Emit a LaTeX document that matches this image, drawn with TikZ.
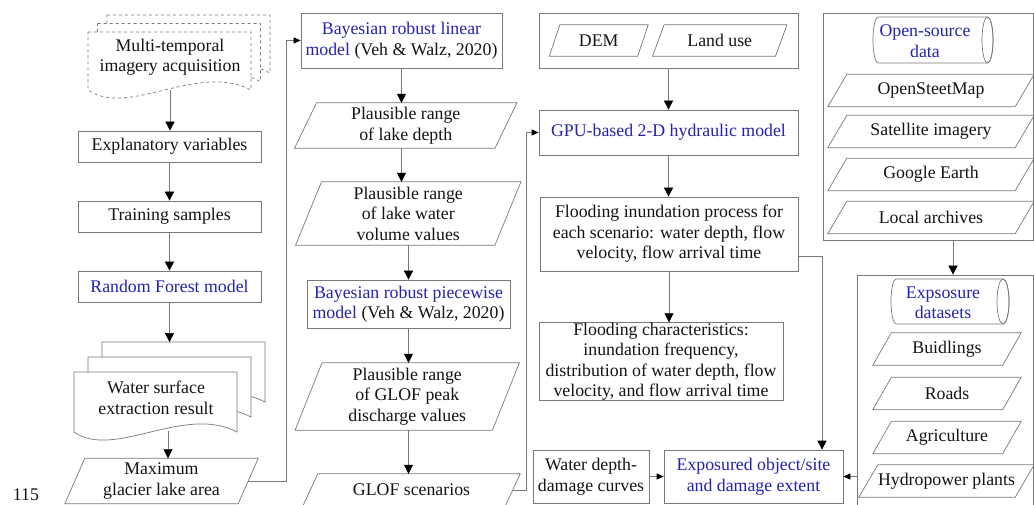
\documentclass[tikz,border=0pt]{standalone}
\usepackage{fontspec}
\setmainfont{Liberation Serif}
\usetikzlibrary{arrows.meta,calc}
\definecolor{blueT}{RGB}{35,35,175}
\definecolor{lineC}{RGB}{120,120,120}
\definecolor{txtC}{RGB}{20,20,20}
\tikzset{
 txt/.style={inner sep=0pt, align=center, font=\fontsize{17.8}{20.5}\selectfont, text=txtC},
 bx/.style={draw=lineC, line width=0.7pt},
 boxn/.style={txt, bx, fill=white},
 cont/.style={bx, inner sep=0pt},
 arr/.style={draw=lineC, line width=0.7pt, -{Triangle[length=9pt,width=9pt,color=black]}},
 arrs/.style={draw=lineC, line width=0.7pt, -{Triangle[length=7pt,width=6pt,color=black]}},
 docd/.style={bx, dashed, fill=white},
 docs/.style={bx, fill=white},
}
\newcommand\mypgram[8][]{%
 \node[txt, minimum width=#5pt, minimum height=#6pt, #1] (#2) at (#3,#4) {#8};
 \draw[bx] ([xshift=#7pt/2]#2.north west) -- ([xshift=#7pt/2]#2.north east) -- ([xshift=-#7pt/2]#2.south east) -- ([xshift=-#7pt/2]#2.south west) -- cycle;
}
\newcommand\mydoc[4]{% style, x, y, h
 \draw[#1] (#2,#3) -- ++(163,0) -- ++(0,#4) .. controls ++(-53,-28) and ++(40,28) .. ++(-163,0) -- cycle;
}
\begin{document}
\begin{tikzpicture}[x=1pt,y=-1pt]
\useasboundingbox (0,0) rectangle (1034,505);
\fill[white] (0,0) rectangle (1034,505);
\clip (0,0) rectangle (1034,505);

% ---------- left column ----------
\mydoc{docd}{107}{15}{58}
\mydoc{docd}{97.5}{23.5}{58}
\mydoc{docd}{88}{32}{58}
\node[txt] (md) at (170,57) {Multi-temporal\\imagery acquisition};
\coordinate (mdb) at (170,90);

\node[boxn, minimum width=183pt, minimum height=31pt] (ev) at (169.5,146.5) {Explanatory variables};
\node[boxn, minimum width=183pt, minimum height=31pt] (ts) at (169.5,216.5) {Training samples};
\node[boxn, minimum width=183pt, minimum height=31pt, text=blueT] (rf) at (169.5,286.5) {Random Forest model};

\mydoc{docs}{102}{342}{60}
\mydoc{docs}{88}{357}{60}
\mydoc{docs}{74}{372}{60}
\node[txt] (ws) at (156,398) {Water surface\\extraction result};
\coordinate (wstop) at (169.5,342);
\coordinate (wsb) at (168,431);

\mypgram{mg}{161.5}{481}{173}{45}{20}{Maximum\\glacier lake area}
\node[txt] (n115) at (26,495) {115};

% ---------- second column ----------
\node[boxn, minimum width=201pt, minimum height=55pt] (brlm) at (401.5,40.5)
 {{\color{blueT}Bayesian robust linear}\\{\color{blueT}model} (Veh \& Walz, 2020)};
\mypgram{pd}{405.75}{125.5}{200}{45}{22}{Plausible range\\of lake depth}
\mypgram{pv}{408.25}{213.5}{199}{63}{26}{Plausible range\\of lake water\\volume values}
\node[boxn, minimum width=203pt, minimum height=48pt] (brpm) at (408.5,304)
 {{\color{blueT}Bayesian robust piecewise}\\{\color{blueT}model} (Veh \& Walz, 2020)};
\mypgram{pk}{407.25}{396.5}{197}{67}{27}{Plausible range\\of GLOF peak\\discharge values}
\mypgram{gs}{411.5}{490}{202}{32}{15}{GLOF scenarios}

% ---------- third column ----------
\node[cont, minimum width=259pt, minimum height=55pt] (dl) at (668.5,40.5) {};
\mypgram{dem}{598.75}{40.5}{88}{31}{10.5}{DEM}
\mypgram{lu}{719.75}{40.5}{122.5}{31}{11.5}{Land use}
\node[boxn, minimum width=259pt, minimum height=45pt, text=blueT] (gpu) at (668.5,132.5) {GPU-based 2-D hydraulic model};
\node[boxn, minimum width=258pt, minimum height=74pt] (fip) at (669,234)
 {Flooding inundation process for\\each scenario: water depth, flow\\velocity, flow arrival time};
\node[boxn, minimum width=244pt, minimum height=77pt] (fc) at (661,361.5)
 {Flooding characteristics:\\inundation frequency,\\distribution of water depth, flow\\velocity, and flow arrival time};
\node[boxn, minimum width=116pt, minimum height=53pt] (wd) at (591,476.5) {Water depth-\\damage curves};
\node[boxn, minimum width=179pt, minimum height=53pt, text=blueT] (exo) at (753.5,476.5) {Exposured object/site\\and damage extent};

% ---------- right column ----------
\node[cont, minimum width=210pt, minimum height=227pt] (osc) at (928,126.5) {};
\draw[bx, fill=white] (987.5,17) -- (878,17) arc[start angle=90, end angle=270, x radius=5pt, y radius=23pt]
 -- (987.5,63) arc[start angle=-90, end angle=90, x radius=5.5pt, y radius=23pt] -- cycle;
\draw[bx] (987.5,40) ellipse [x radius=5.5pt, y radius=23pt];
\node[txt, text=blueT] (osd) at (925,41) {Open-source\\data};
\mypgram{osm}{931}{90.5}{187}{32}{19}{OpenSteetMap}
\mypgram{sat}{931}{131.5}{187}{32}{19}{Satellite imagery}
\mypgram{ge}{931}{174.5}{187}{32}{19}{Google Earth}
\mypgram{la}{931}{217.5}{187}{32}{19}{Local archives}

\node[cont, minimum width=176pt, minimum height=240pt] (exc) at (945,395) {};
\draw[bx, fill=white] (1003,279) -- (896,279) arc[start angle=90, end angle=270, x radius=5pt, y radius=22.5pt]
 -- (1003,324) arc[start angle=-90, end angle=90, x radius=6pt, y radius=22.5pt] -- cycle;
\draw[bx] (1003,301.5) ellipse [x radius=6pt, y radius=22.5pt];
\node[txt, text=blueT] (exd) at (943,303) {Expsosure\\datasets};
\mypgram{bu}{947}{349}{129.5}{32}{18.5}{Buidlings}
\mypgram{ro}{947}{393.5}{129.5}{32}{18.5}{Roads}
\mypgram{ag}{947}{437.5}{129.5}{32}{18.5}{Agriculture}
\mypgram{hp}{946.5}{481}{156}{32}{19}{Hydropower plants}

% ---------- connectors ----------
\draw[arr] (mdb) -- (mdb |- ev.north);
\draw[arr] (ev.south) -- (ts.north);
\draw[arr] (ts.south) -- (rf.north);
\draw[arr] (rf.south) -- (wstop);
\draw[arr] (wsb) -- (wsb |- mg.north);
\coordinate (c1) at (286,40.5);
\draw[arrs] (mg.east) -| (c1) -- (brlm.west);

\draw[arr] (brlm.south) -- (brlm.south |- pd.north);
\draw[arr] (brlm.south |- pd.south) -- (brlm.south |- pv.north);
\draw[arr] (brpm.north |- pv.south) -- (brpm.north);
\draw[arr] (brpm.south) -- (brpm.south |- pk.north);
\draw[arr] (brpm.south |- pk.south) -- (brpm.south |- gs.north);
\coordinate (c2) at (526,132.5);
\draw[arrs] (gs.east) -| (c2) -- (gpu.west);

\draw[arr] (dl.south) -- (gpu.north);
\draw[arr] (gpu.south) -- (gpu.south |- fip.north);
\draw[arr] (fip.south) -- (fip.south |- fc.north);
\coordinate (c3) at (822,256);
\draw[arr] ([yshift=-22pt]fip.east) -- (c3) -- (c3 |- exo.north);
\draw[arrs] (wd.east) -- (exo.west);
\draw[arrs] (exc.west |- exo.east) -- (exo.east);
\draw[arr] ([xshift=25pt]osc.south) -- ([xshift=25pt]osc.south |- exc.north);
\end{tikzpicture}
\end{document}
